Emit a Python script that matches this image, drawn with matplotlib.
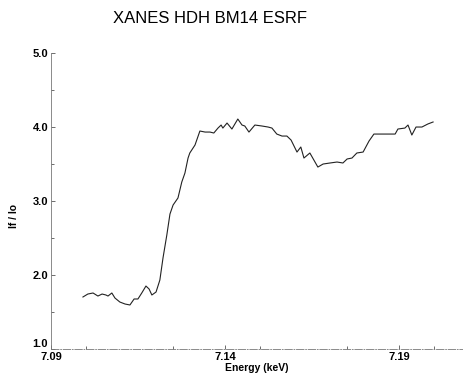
import matplotlib
matplotlib.use('Agg')
import matplotlib.pyplot as plt
import matplotlib.transforms as mtransforms
from matplotlib.ticker import MultipleLocator

plt.rcParams['font.family'] = ['Liberation Sans', 'DejaVu Sans']

# energy (keV) and fluorescence ratio
energy = [7.0992, 7.1006, 7.1021, 7.1035, 7.1047, 7.1058, 7.1064, 7.1075, 7.1084, 7.1098,
          7.1113, 7.1127, 7.1139, 7.1150, 7.1161, 7.1173, 7.1182, 7.1190, 7.1202, 7.1213,
          7.1222, 7.1233, 7.1242, 7.1251, 7.1265, 7.1276, 7.1285, 7.1294, 7.1299, 7.1314,
          7.1328, 7.1343, 7.1357, 7.1368, 7.1380, 7.1389, 7.1394, 7.1406, 7.1420, 7.1437,
          7.1449, 7.1457, 7.1469, 7.1486, 7.1506, 7.1524, 7.1535, 7.1549, 7.1564, 7.1578,
          7.1590, 7.1607, 7.1618, 7.1627, 7.1644, 7.1667, 7.1682, 7.1702, 7.1722, 7.1739,
          7.1751, 7.1765, 7.1779, 7.1797, 7.1814, 7.1828, 7.1845, 7.1866, 7.1889, 7.1897,
          7.1917, 7.1926, 7.1937, 7.1949, 7.1966, 7.1983, 7.1998]
if_io = [1.703, 1.743, 1.757, 1.716, 1.743, 1.730, 1.716, 1.757, 1.689, 1.635,
         1.608, 1.595, 1.676, 1.676, 1.757, 1.851, 1.811, 1.730, 1.770, 1.932,
         2.230, 2.541, 2.824, 2.946, 3.041, 3.257, 3.378, 3.581, 3.649, 3.757,
         3.946, 3.932, 3.932, 3.919, 3.986, 4.027, 3.986, 4.054, 3.973, 4.108,
         4.027, 4.014, 3.932, 4.027, 4.014, 4.000, 3.986, 3.905, 3.878, 3.878,
         3.824, 3.662, 3.730, 3.581, 3.649, 3.459, 3.500, 3.514, 3.527, 3.514,
         3.568, 3.581, 3.649, 3.662, 3.811, 3.905, 3.905, 3.905, 3.905, 3.973,
         3.986, 4.027, 3.892, 4.000, 4.000, 4.041, 4.068]

x_ticks = [7.09, 7.14, 7.19]
y_ticks = [1.0, 2.0, 3.0, 4.0, 5.0]

fig = plt.figure(figsize=(4.63, 3.78), dpi=100)
ax = fig.add_axes([0.110, 0.0767, 0.89, 0.783])

ax.plot(energy, if_io, color='#222222', lw=0.8)

ax.set_xlim(7.09, 7.2084)
ax.set_ylim(1.0, 5.0)
ax.set_xticks(x_ticks)
ax.set_yticks(y_ticks)
ax.set_xticklabels(['%.2f' % t for t in x_ticks])
ax.set_yticklabels(['%.1f' % t for t in y_ticks])
ax.xaxis.set_minor_locator(MultipleLocator(0.025))
ax.yaxis.set_minor_locator(MultipleLocator(0.5))

for s in ['top', 'right']:
    ax.spines[s].set_visible(False)
for s in ['left', 'bottom']:
    ax.spines[s].set_color('#777777')
    ax.spines[s].set_linewidth(0.6)
ax.spines['bottom'].set_linestyle((0, (9, 2, 1, 2)))

ax.tick_params(which='both', direction='in', color='#555555', width=0.6)
ax.tick_params(which='major', length=3, labelsize=8, pad=2)
ax.tick_params(which='minor', length=2)
for lab in ax.get_xticklabels() + ax.get_yticklabels():
    lab.set_fontweight('bold')

# lift the "1.0" label a little so it clears "7.09"
lift = mtransforms.ScaledTranslation(0, 4 / 72, fig.dpi_scale_trans)
ylab0 = ax.get_yticklabels()[0]
ylab0.set_transform(ylab0.get_transform() + lift)

ax.set_xlabel('Energy (keV)', fontsize=7.5, fontweight='bold', labelpad=1)
ax.set_ylabel('If / Io', fontsize=7.5, fontweight='bold', labelpad=8)
ax.yaxis.set_label_coords(-0.078, 0.45)

fig.text(0.454, 0.952, 'XANES HDH BM14 ESRF', fontsize=12, ha='center', va='center')

fig.savefig('out.png', dpi=100)
